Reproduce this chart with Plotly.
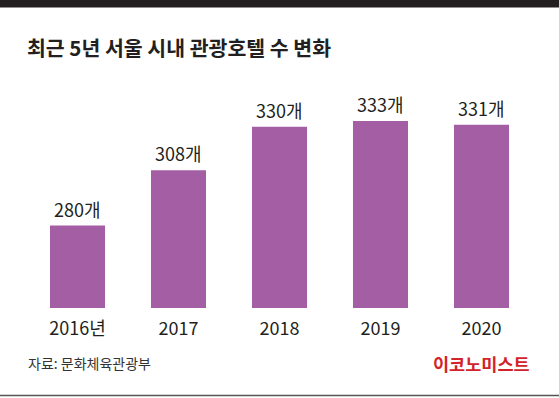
import plotly.graph_objects as go

years = ["2016년", "2017", "2018", "2019", "2020"]
counts = [280, 308, 330, 333, 331]
value_labels = ["280개", "308개", "330개", "333개", "331개"]

title_text = "최근 5년 서울 시내 관광호텔 수 변화"
source_text = "자료: 문화체육관광부"
logo_text = "이코노미스트"

W, H = 559, 398
L, R, T, B = 27, 27, 100, 90
PW = W - L - R
PH = H - T - B
FONT = "Noto Sans CJK KR"

def px_x(px):
    return (px - L) / PW

def px_y(py):
    return (H - B - py) / PH

fig = go.Figure()
fig.add_trace(go.Bar(
    x=years, y=counts,
    marker=dict(color="#A45FA4", line=dict(width=0)),
    hoverinfo="skip",
))

# category axis: annotation positions use category index
for i, (v, lab) in enumerate(zip(counts, value_labels)):
    fig.add_annotation(x=i, y=v, text=lab, showarrow=False, xanchor="center",
                       yanchor="bottom", yshift=2,
                       font=dict(family=FONT, size=18, color="#231f20"))

fig.add_annotation(xref="paper", yref="paper", x=px_x(25), y=px_y(47.5),
                   text=f"<b>{title_text}</b>", showarrow=False, xanchor="left",
                   yanchor="middle", font=dict(family=FONT, size=20.5, color="#231f20"))
fig.add_annotation(xref="paper", yref="paper", x=px_x(26), y=px_y(363),
                   text=source_text, showarrow=False, xanchor="left",
                   yanchor="middle", font=dict(family=FONT, size=14, color="#333333"))
fig.add_annotation(xref="paper", yref="paper", x=px_x(532), y=px_y(363),
                   text=f"<b>{logo_text}</b>", showarrow=False, xanchor="right",
                   yanchor="middle", font=dict(family=FONT, size=17.5, color="#D2232A"))

fig.add_shape(type="rect", xref="paper", yref="paper", x0=px_x(0), x1=px_x(W),
              y0=px_y(7.5), y1=px_y(0), fillcolor="#231f20", line=dict(width=0), layer="above")
fig.add_shape(type="line", xref="paper", yref="paper", x0=px_x(0), x1=px_x(W),
              y0=px_y(395.5), y1=px_y(395.5), line=dict(color="#555555", width=1.5))

fig.update_layout(
    width=W, height=H,
    margin=dict(l=L, r=R, t=T, b=B),
    paper_bgcolor="white", plot_bgcolor="white",
    bargap=0.455,
    showlegend=False,
    xaxis=dict(type="category", range=[-0.5, len(years) - 0.5], showgrid=False,
               zeroline=False, showline=False,
               ticks="outside", ticklen=4, tickcolor="rgba(0,0,0,0)",
               tickfont=dict(family=FONT, size=18, color="#231f20")),
    yaxis=dict(range=[238.2, 343.6], visible=False, showgrid=False, zeroline=False),
)

fig.write_html(
    "out.html",
    config={"displayModeBar": False},
    post_script="document.body.style.margin='0';document.body.style.overflow='hidden';",
)
